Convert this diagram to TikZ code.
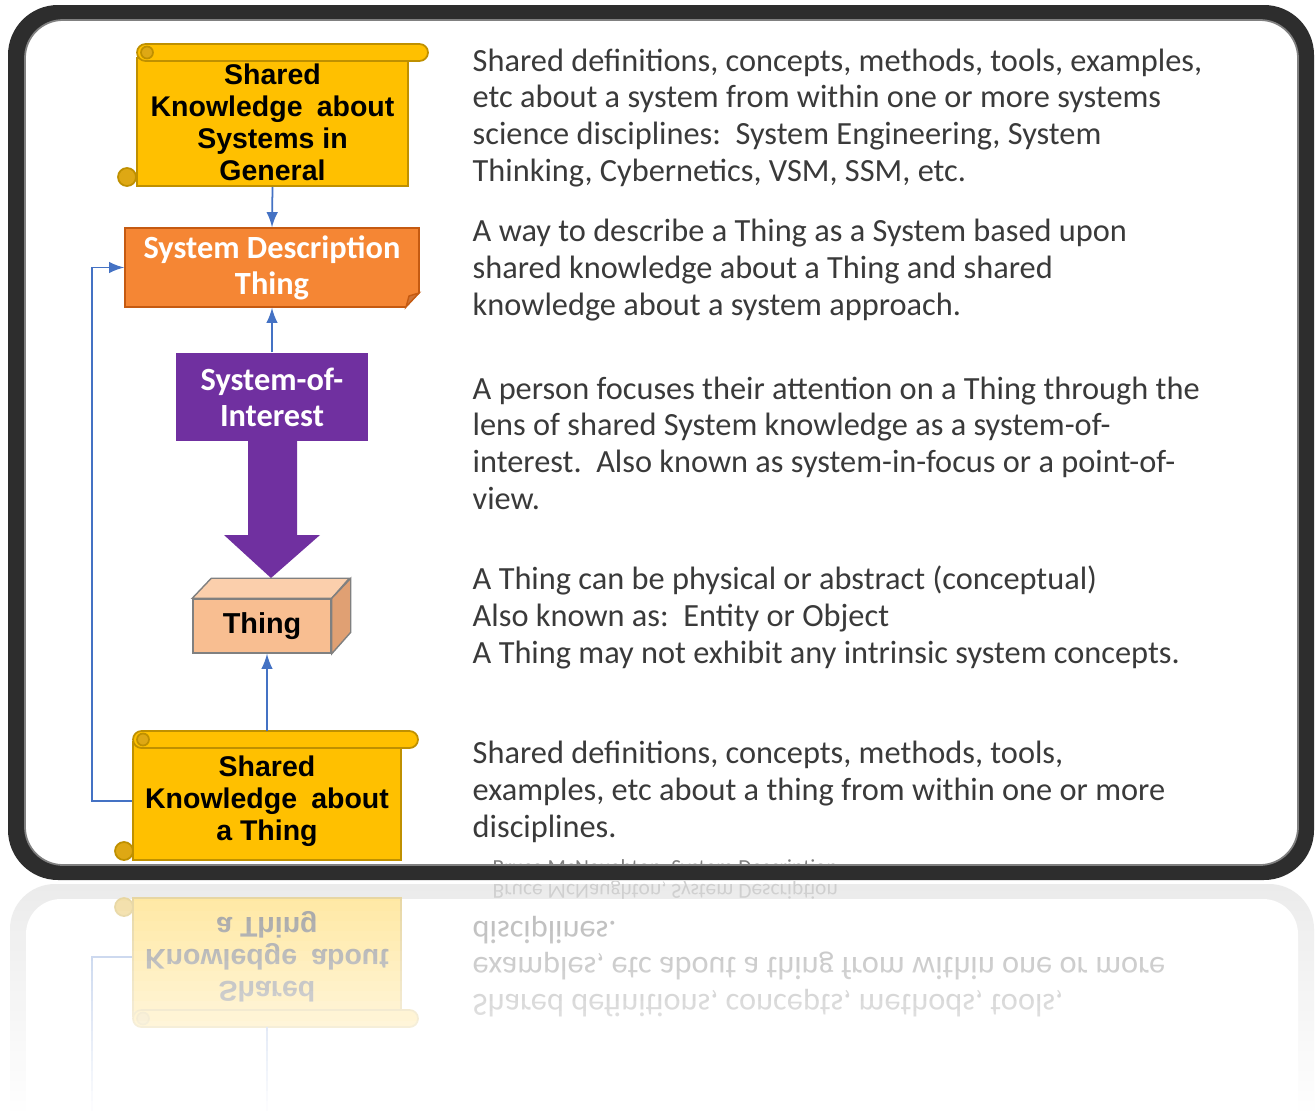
\documentclass[tikz,border=0pt]{standalone}
\usepackage{fontspec}
\setmainfont{Carlito}
\newfontfamily\arialfont{Liberation Sans}
\usetikzlibrary{positioning}

\definecolor{scrollyellow}{RGB}{255,192,0}
\definecolor{scrollgold}{RGB}{191,144,0}
\definecolor{curlgold}{RGB}{222,168,20}
\definecolor{descorange}{RGB}{245,134,52}
\definecolor{foldorange}{RGB}{197,90,17}
\definecolor{soipurple}{RGB}{112,48,160}
\definecolor{thingfront}{RGB}{248,190,145}
\definecolor{thingtop}{RGB}{251,207,172}
\definecolor{thingside}{RGB}{224,160,115}
\definecolor{linkblue}{RGB}{68,114,196}
\definecolor{framedark}{RGB}{45,45,45}
\definecolor{reflgray}{RGB}{205,205,205}
\definecolor{textgray}{RGB}{58,58,58}

\tikzset{
  scrollbox/.style={fill=scrollyellow, draw=scrollgold, line width=0.5pt, inner sep=0pt,
    align=center, font=\arialfont\bfseries\fontsize{8.1}{9.1}\selectfont},
  roll/.style={fill=scrollyellow, draw=scrollgold, line width=0.5pt, rounded corners=0.085cm},
  curl/.style={fill=curlgold, draw=scrollgold, line width=0.5pt},
  whitebold/.style={text=white, inner sep=0pt, align=center,
    font=\bfseries\fontsize{9.2}{10.3}\selectfont},
  conn/.style={->, draw=linkblue, line width=0.5pt},
  % base of a multi-line node is its last line
  desc/.style={anchor=base west, inner sep=0pt, align=left, text=textgray,
    font=\fontsize{9.2}{10.39}\selectfont}
}

% upper half of the slide
\newcommand\drawupper{%
  % shared knowledge about systems in general
  \node[scrollbox, minimum width=2.71cm, minimum height=1.28cm] (skg) at (272.5,122)
    {Shared\\Knowledge\enspace about\\Systems in\\General};
  \draw[roll] (137,44) rectangle (428,61);
  \draw[curl] (147,52.5) circle [radius=6];
  \draw[curl] (127,177) circle [radius=9];
  % system description
  \node[whitebold, fill=descorange, draw=foldorange, line width=0.4pt,
    minimum width=2.94cm, minimum height=0.79cm] (sdt) at (272,267.5)
    {System Description\\Thing};
  \fill[white] (420,293) -- (420,308) -- (405,308) -- cycle;
  \filldraw[fill=foldorange!85, draw=foldorange, line width=0.4pt]
    (419,293) -- (406,307) -- (409,296) -- cycle;
  % system-of-interest
  \node[whitebold, fill=soipurple, minimum width=1.92cm, minimum height=0.88cm] (soi)
    at (272,397) {System-of-\\Interest};
  \fill[soipurple] (248,440) -- (248,535) -- (224,535) -- (271,578)
    -- (320,535) -- (297,535) -- (297,440) -- cycle;
  % thing
  \node[fill=thingfront, draw=gray, line width=0.4pt, inner sep=0pt,
    minimum width=1.38cm, minimum height=0.54cm,
    font=\arialfont\bfseries\fontsize{8.2}{9}\selectfont] (thing) at (262,626) {Thing};
  \filldraw[fill=thingtop, draw=gray, line width=0.4pt]
    (thing.north west) -- ++(19,-20) -- ++(138,0) -- (thing.north east) -- cycle;
  \filldraw[fill=thingside, draw=gray, line width=0.4pt]
    (thing.north east) -- ++(19,-20) -- ++(0,54) -- (thing.south east) -- cycle;
  \draw[conn] (skg.south) -- (sdt.north);
  \draw[conn] (soi.north) -- (sdt.south);
  % descriptions
  \node[desc] (txtgeneral) at (472,181) {Shared definitions, concepts, methods, tools, examples,\\
    etc about a system from within one or more systems\\
    science disciplines:\ \ System Engineering, System\\
    Thinking, Cybernetics, VSM, SSM, etc.};
  \node[desc] (txtdesc) at (472,315) {A way to describe a Thing as a System based upon\\
    shared knowledge about a Thing and shared\\
    knowledge about a system approach.};
  \node[desc] (txtinterest) at (472,509) {A person focuses their attention on a Thing through the\\
    lens of shared System knowledge as a system-of-\\
    interest.\ \ Also known as system-in-focus or a point-of-\\
    view.};
  \node[desc] (txtthing) at (472,663) {A Thing can be physical or abstract (conceptual)\\
    Also known as:\ \ Entity or Object\\
    A Thing may not exhibit any intrinsic system concepts.};
}

% lower half, also mirrored below the frame
\newcommand\drawlower{%
  \node[scrollbox, minimum width=2.68cm, minimum height=1.18cm] (skt) at (267,801)
    {Shared\\Knowledge\enspace about\\a Thing};
  \draw[roll] (133,731) rectangle (418,748);
  \draw[curl] (143,739.5) circle [radius=6];
  \draw[curl] (124,851) circle [radius=9];
  \coordinate (skttop) at (267,731);
  \node[desc] (txtshared) at (472,837) {Shared definitions, concepts, methods, tools,\\
    examples, etc about a thing from within one or more\\
    disciplines.};
  \node[desc, text=gray, font=\fontsize{6.1}{7.5}\selectfont] (credit) at (492,874)
    {Bruce McNaughton, System Description};
}

\begin{document}
\begin{tikzpicture}[x=0.01cm, y=-0.01cm, >=latex]
\useasboundingbox (0,0) rectangle (1315,1115);
\fill[white] (0,0) rectangle (1315,1115);

% reflection
\begin{scope}
  \clip (0,881) rectangle (1315,1115);
  \fill[reflgray, rounded corners=0.45cm] (10,884) rectangle (1314,1300);
  \fill[white, rounded corners=0.35cm] (26,899) rectangle (1298,1300);
  \begin{scope}[shift={(0,879)}, yscale=-1, shift={(0,-879)}, transform shape]
    \drawlower
    \draw[linkblue, line width=0.5pt] (skttop) -- ++(0,-90);
    \draw[linkblue, line width=0.5pt] (skt.west) -- ++(-40,0) -- ++(0,-200);
  \end{scope}
  \foreach \i in {0,...,23} {
    \pgfmathsetmacro\fadeop{0.62+0.38*\i/23}
    \fill[white, opacity=\fadeop] (0,881+10*\i) rectangle (1315,891+10*\i);
  }
\end{scope}

% slide
\drawupper
\drawlower
\draw[conn] (skttop) -- (skttop |- thing.south);
\draw[conn] (skt.west) -- ++(-40,0) |- (sdt.west);

% frame
\fill[framedark, even odd rule]
  [rounded corners=0.5cm] (8,5) rectangle (1314,880)
  [rounded corners=0.38cm] (25,20) rectangle (1298,865);
\draw[gray, line width=0.5pt, rounded corners=0.38cm] (25,20) rectangle (1298,865);
\end{tikzpicture}
\end{document}
